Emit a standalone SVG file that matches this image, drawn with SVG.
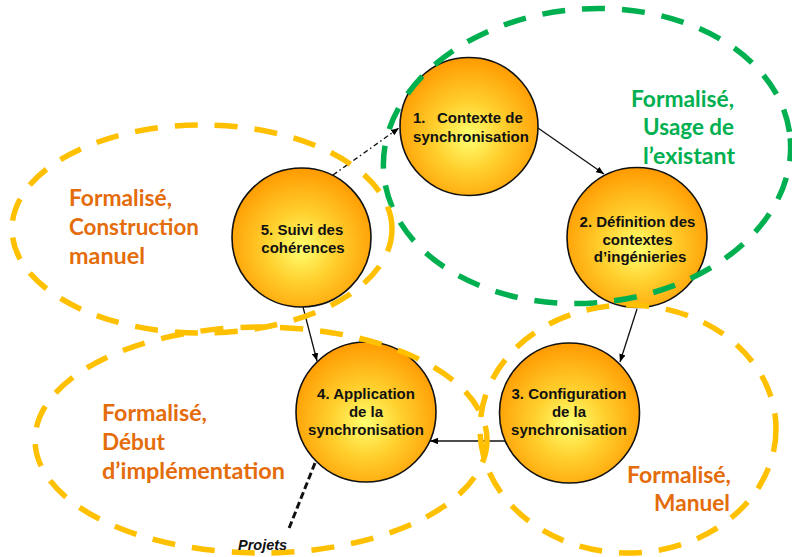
<svg xmlns="http://www.w3.org/2000/svg" width="792" height="557" viewBox="0 0 792 557">
<defs>
  <radialGradient id="ball" cx="0.5" cy="0.56" r="0.56" fx="0.5" fy="0.58">
    <stop offset="0" stop-color="#FFFF70"/>
    <stop offset="0.45" stop-color="#FFD02E"/>
    <stop offset="1" stop-color="#FF9A00"/>
  </radialGradient>
  <marker id="arr" viewBox="0 0 10 8" refX="10" refY="4" markerWidth="8" markerHeight="6.4" markerUnits="userSpaceOnUse" orient="auto">
    <path d="M0,0 L10,4 L0,8 Z" fill="#000"/>
  </marker>
</defs>
<style>
  .node circle { fill: url(#ball); stroke: #111; stroke-width: 1.6; }
  .node text { font-family: "Liberation Sans", Arial, sans-serif; font-weight: bold; font-size: 15px; fill: #111; text-anchor: middle; }
  .conn { stroke: #111; stroke-width: 1.3; fill: none; marker-end: url(#arr); }
  .dashdot { stroke-dasharray: 5 3 1.5 3; }
  .projets { stroke: #111; stroke-width: 3; fill: none; stroke-dasharray: 7 3.5; }
  .zone { fill: none; stroke-width: 5.5; stroke-dasharray: 23 17; }
  .orange { stroke: #FFC000; }
  .green { stroke: #00B050; }
  .lbl { font-family: Lato, "Open Sans", sans-serif; font-weight: bold; font-size: 22px; }
  .lo { fill: #E46C0A; }
  .lg { fill: #00B050; }
  .proj { font-family: "Liberation Sans", Arial, sans-serif; font-weight: bold; font-style: italic; font-size: 14.5px; fill: #111; }
</style>

<g id="nodes">
  <g id="node1" class="node">
    <circle cx="469" cy="126.5" r="69"/>
    <text x="413" y="123" style="text-anchor:start">1.</text>
    <text x="437" y="123" style="text-anchor:start">Contexte de</text>
    <text x="471" y="141.5">synchronisation</text>
  </g>
  <g id="node2" class="node">
    <circle cx="637" cy="237.5" r="70"/>
    <text x="637.5" y="226.5">2. Définition des</text>
    <text x="637.5" y="245">contextes</text>
    <text x="640" y="262">d’ingénieries</text>
  </g>
  <g id="node3" class="node">
    <circle cx="569.5" cy="413" r="70"/>
    <text x="569" y="399">3. Configuration</text>
    <text x="569" y="417">de la</text>
    <text x="569" y="435">synchronisation</text>
  </g>
  <g id="node4" class="node">
    <circle cx="366" cy="412" r="70"/>
    <text x="366" y="399">4. Application</text>
    <text x="366" y="417">de la</text>
    <text x="366" y="435">synchronisation</text>
  </g>
  <g id="node5" class="node">
    <circle cx="301.5" cy="237.5" r="69.5"/>
    <text x="302" y="235">5. Suivi des</text>
    <text x="303" y="253">cohérences</text>
  </g>
</g>

<g id="connectors">
  <line class="conn" x1="538" y1="128" x2="604" y2="174"/>
  <line class="conn" x1="637" y1="309" x2="620" y2="362"/>
  <line class="conn" x1="505" y1="441" x2="430" y2="441"/>
  <line class="conn" x1="303" y1="307" x2="317" y2="361"/>
  <line class="conn dashdot" x1="333" y1="175" x2="399" y2="128"/>
  <line class="projets" x1="315" y1="463" x2="288" y2="531"/>
</g>

<g id="zones">
  <ellipse id="zone-green" class="zone green" cx="587" cy="156" rx="204" ry="147" transform="rotate(-5 587 156)"/>
  <ellipse id="zone-topleft" class="zone orange" cx="202" cy="229" rx="190" ry="104"/>
  <ellipse id="zone-bottomleft" class="zone orange" cx="261" cy="440" rx="226" ry="113"/>
  <ellipse id="zone-bottomright" class="zone orange" cx="628" cy="429" rx="148" ry="124"/>
</g>

<g id="labels">
  <text class="lbl lg" x="734" y="107" text-anchor="end" textLength="103" lengthAdjust="spacingAndGlyphs">Formalisé,</text>
  <text class="lbl lg" x="734" y="135" text-anchor="end" textLength="91" lengthAdjust="spacingAndGlyphs">Usage de</text>
  <text class="lbl lg" x="735" y="164" text-anchor="end" textLength="92" lengthAdjust="spacingAndGlyphs">l’existant</text>

  <text class="lbl lo" x="69" y="206" textLength="103" lengthAdjust="spacingAndGlyphs">Formalisé,</text>
  <text class="lbl lo" x="69" y="235" textLength="130" lengthAdjust="spacingAndGlyphs">Construction</text>
  <text class="lbl lo" x="69" y="264" textLength="76" lengthAdjust="spacingAndGlyphs">manuel</text>

  <text class="lbl lo" x="102" y="421" textLength="105" lengthAdjust="spacingAndGlyphs">Formalisé,</text>
  <text class="lbl lo" x="102" y="450" textLength="63" lengthAdjust="spacingAndGlyphs">Début</text>
  <text class="lbl lo" x="102" y="479" textLength="183" lengthAdjust="spacingAndGlyphs">d’implémentation</text>

  <text class="lbl lo" x="731" y="483" text-anchor="end" textLength="104" lengthAdjust="spacingAndGlyphs">Formalisé,</text>
  <text class="lbl lo" x="730" y="511" text-anchor="end" textLength="76" lengthAdjust="spacingAndGlyphs">Manuel</text>

  <text class="proj" x="238" y="550">Projets</text>
</g>
</svg>
